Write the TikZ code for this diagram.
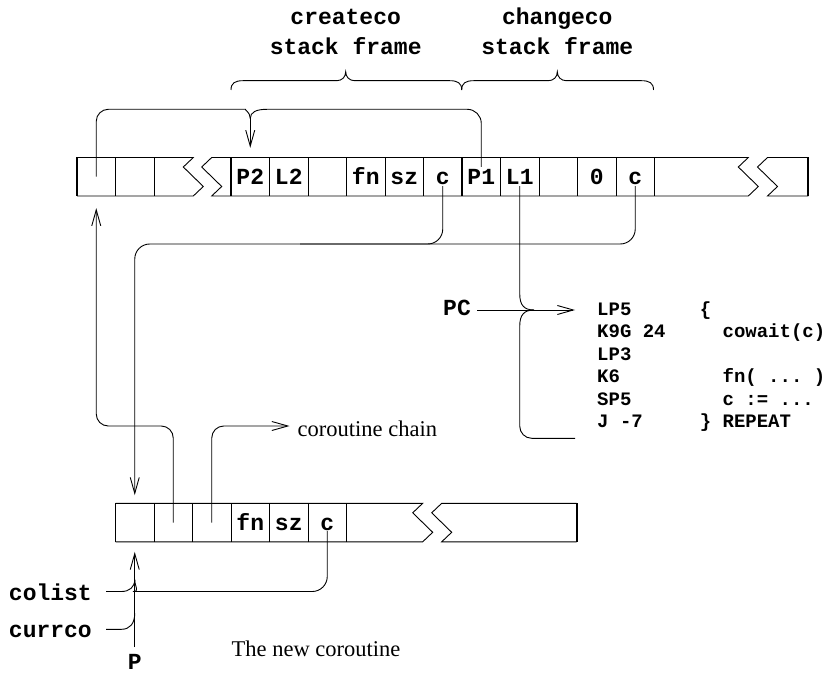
\documentclass[tikz,border=0pt]{standalone}
\usepackage{fontspec}
\setmainfont{Liberation Serif}
\setmonofont{Liberation Mono}
\usetikzlibrary{arrows.meta,calc}
\begin{document}
\begin{tikzpicture}[x=1pt,y=-1pt,
  ln/.style={line width=0.9pt, draw=black},
  thk/.style={line width=1.8pt, draw=black},
  lab/.style={font=\fontsize{23}{27}\selectfont\ttfamily\bfseries, inner sep=0pt},
  cell/.style={lab, minimum width=38.5pt, minimum height=38.5pt, text height=16.5pt, text depth=0pt},
  code/.style={font=\fontsize{19}{22}\selectfont\ttfamily\bfseries, inner sep=0pt, anchor=base west},
  serif/.style={font=\fontsize{22.5}{27}\selectfont, inner sep=0pt, anchor=base west},
  arr/.style={ln, -{Straight Barb[length=16pt,width=9pt]}}]
\useasboundingbox (0,0) rectangle (826,676);
\fill[white] (0,0) rectangle (826,676);

% headers
\node[lab, anchor=base] (h1) at (345.7,25) {createco};
\node[lab, anchor=base] (h2) at (345.7,55) {stack frame};
\node[lab, anchor=base] (h3) at (557.3,25) {changeco};
\node[lab, anchor=base] (h4) at (557.3,55) {stack frame};

% braces
\draw[ln] (231,90) .. controls (231,83) and (235,80.7) .. (243,80.7) -- (336.7,80.7)
  .. controls (342,80.7) and (345.7,77) .. (345.7,71.7)
  .. controls (345.7,77) and (349.4,80.7) .. (354.7,80.7) -- (449.7,80.7)
  .. controls (457.7,80.7) and (461.7,83) .. (461.7,90);
\draw[ln] (461.7,90) .. controls (461.7,83) and (465.7,80.7) .. (473.7,80.7) -- (548.3,80.7)
  .. controls (553.6,80.7) and (557.3,77) .. (557.3,71.7)
  .. controls (557.3,77) and (561,80.7) .. (566.3,80.7) -- (641.5,80.7)
  .. controls (649.5,80.7) and (653.5,83) .. (653.5,90);

% top stack outline
\draw[ln] (77,157.5) -- (193.3,157.5) -- (183.3,167) -- (203.3,186.5) -- (193.3,196) -- (77,196);
\draw[thk] (77,157.5) -- (77,196);
\foreach \xx in {115.5,154} \draw[ln] (\xx,157.5) -- (\xx,196);
\draw[ln] (211.7,157.5) -- (748.3,157.5) -- (738.3,167) -- (758.3,186.5) -- (748.3,196)
  -- (211.7,196) -- (221.7,186.5) -- (201.7,167) -- cycle;
\foreach \xx in {269.5,308,346.5,385,423.5,500.5,539,577.5,616} \draw[ln] (\xx,157.5) -- (\xx,196);
\foreach \xx in {231,462,654.5} \draw[thk] (\xx,157.5) -- (\xx,196);
\draw[ln] (808.3,196) -- (767.5,196) -- (777.5,186.5) -- (757.5,167) -- (767.5,157.5) -- (808.3,157.5);
\draw[thk] (808.3,157.5) -- (808.3,196);

% top cells
\node[cell] (t0) at (96.25,176.75) {};
\node[cell] (t1) at (134.75,176.75) {};
\node[cell] (t2) at (173.25,176.75) {};
\node[cell] (t4) at (250.25,176.75) {P2};
\node[cell] (t5) at (288.75,176.75) {L2};
\node[cell] (t6) at (327.25,176.75) {};
\node[cell] (t7) at (365.75,176.75) {fn};
\node[cell] (t8) at (404.25,176.75) {sz};
\node[cell] (t9) at (442.75,176.75) {c};
\node[cell] (t10) at (481.25,176.75) {P1};
\node[cell] (t11) at (519.75,176.75) {L1};
\node[cell] (t12) at (558.25,176.75) {};
\node[cell] (t13) at (596.75,176.75) {0};
\node[cell] (t14) at (635.25,176.75) {c};

% bottom stack outline
\draw[ln] (115.5,503.3) -- (422.7,503.3) -- (412.7,512.8) -- (432.7,532.3) -- (422.7,541.8) -- (115.5,541.8);
\draw[thk] (115.5,503.3) -- (115.5,541.8);
\foreach \xx in {154,192.5,231,269.5,308} \draw[ln] (\xx,503.3) -- (\xx,541.8);
\draw[thk] (346.5,503.3) -- (346.5,541.8);
\draw[ln] (576.7,541.8) -- (441.7,541.8) -- (451.7,532.3) -- (431.7,512.8) -- (441.7,503.3) -- (576.7,503.3);
\draw[thk] (576.7,503.3) -- (576.7,541.8);

% bottom cells
\node[cell] (b0) at (134.75,522.5) {};
\node[cell] (b1) at (173.25,522.5) {};
\node[cell] (b2) at (211.75,522.5) {};
\node[cell] (b3) at (250.25,522.5) {fn};
\node[cell] (b4) at (288.75,522.5) {sz};
\node[cell] (b5) at (327.25,522.5) {c};

% code
\node[code] (lp5) at (597,315) {LP5~~~~~~\{};
\node[code] (k9g) at (597,337.5) {K9G~24~~~~~cowait(c)};
\node[code] (lp3) at (597,360) {LP3};
\node[code] (k6) at (597,382.5) {K6~~~~~~~~~fn(~...~)};
\node[code] (sp5) at (597,405) {SP5~~~~~~~~c~:=~...};
\node[code] (j7) at (597,427.5) {J~-7~~~~~\}~REPEAT};

% other labels
\node[lab, anchor=base east] (pc) at (471,315) {PC};
\node[serif] (cc) at (297.5,436) {coroutine chain};
\node[serif] (nc) at (231.5,656.7) {The new coroutine};
\node[lab, anchor=base east] (colist) at (92,600) {colist};
\node[lab, anchor=base east] (currco) at (92,637.3) {currco};
\node[lab, anchor=base] (P) at (134.75,669.5) {P};

% coordinates
\coordinate (yT) at (0,109.3);
\coordinate (tipA) at (250.25,118.5);
\coordinate (yB) at (0,244);
\coordinate (jn) at (300,244);
\coordinate (yA) at (0,426);
\coordinate (tipB) at (534,310);
\coordinate (jend) at (575,438.3);
\coordinate (yC) at (0,591.5);
\coordinate (tipC) at (134.75,579.5);
\coordinate (yD) at (0,629.3);
\coordinate (tipD) at (134.75,613);

% top brace connector
\draw[ln, rounded corners=12pt] (t0.center) -- (t0.center |- yT) -- (233.5,109.3) [sharp corners]
  .. controls (244,109.3) and (250.25,112) .. (tipA);
\draw[ln] (tipA) .. controls (250.25,112) and (256.5,109.3) .. (267,109.3)
  [rounded corners=14pt] -- (t10.center |- yT) -- ($(t10.north)+(0,9.5)$);
\draw[arr, shorten >=9.5pt] (tipA) -- (t4.north);

% c lines to the new coroutine
\draw[arr, rounded corners=15pt, shorten >=8pt] ($(t14.center)+(0,9.5)$) -- (t14.center |- yB)
  -- (b0.center |- yB) -- (b0.north);
\draw[ln, rounded corners=15pt] ($(t9.center)+(0,9.5)$) -- (t9.center |- yB) -- (jn);

% L1 brace to code
\draw[ln] ($(t11.center)+(0,9.5)$) -- (519.75,294) .. controls (519.75,305) and (524,310) .. (tipB);
\draw[ln] (tipB) .. controls (524,310) and (519.75,315) .. (519.75,326)
  [rounded corners=12pt] -- (519.75,438.3) -- (jend);
\draw[arr, shorten <=6pt, shorten >=22pt] (pc.east |- tipB) -- (lp5.west |- tipB);

% bottom stack links
\draw[arr, rounded corners=12pt, shorten >=12pt] (b1.center) -- (b1.center |- yA)
  -- (t0.center |- yA) -- (t0.south);
\draw[arr, rounded corners=12pt, shorten >=8pt] (b2.center) -- (b2.center |- yA) -- (cc.west |- yA);

% colist / currco / P
\draw[ln, rounded corners=15pt] ($(b5.center)+(0,8.5)$) -- (b5.center |- yC) -- (148,591.5) [sharp corners]
  .. controls (140,591.5) and (134.75,587) .. (tipC);
\draw[ln, shorten <=14pt] (colist.east |- yC) -- (121.5,591.5)
  .. controls (129.5,591.5) and (134.75,587) .. (tipC);
\draw[ln, shorten <=14pt] (currco.east |- yD) -- (121.5,629.3)
  .. controls (129.5,629.3) and (134.75,624) .. (tipD);
\draw[arr, shorten <=7pt, shorten >=10pt] (P.north) -- (b0.south);
\end{tikzpicture}
\end{document}
